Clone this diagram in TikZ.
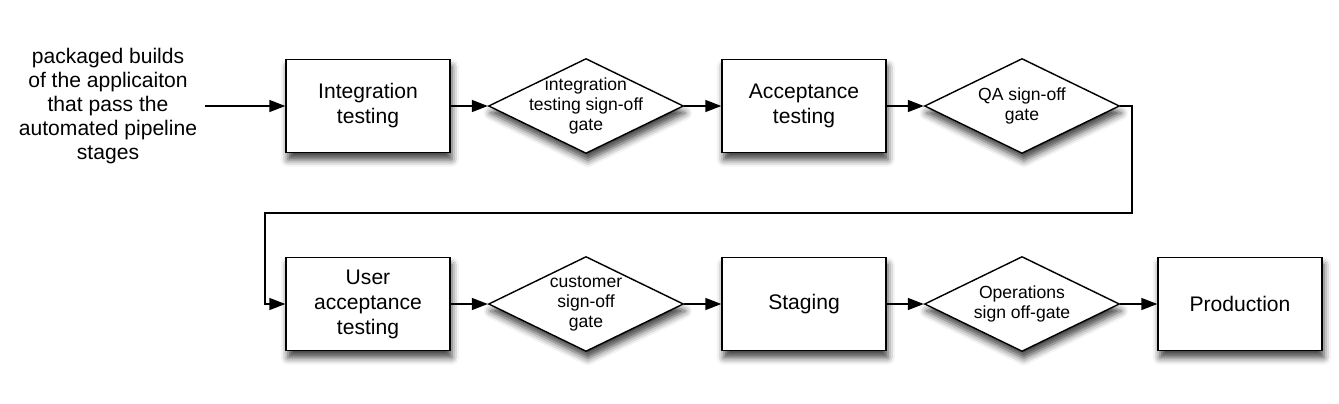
\documentclass[tikz,border=0pt]{standalone}
\usepackage{fontspec}
\setmainfont{Liberation Sans}
\usetikzlibrary{shapes.geometric,arrows.meta,shadows.blur}

\begin{document}
\begin{tikzpicture}[x=0.02cm,y=-0.02cm,
    stage/.style={draw,line width=0.8pt,fill=white,
      minimum width=3.28cm,minimum height=1.86cm,align=center,
      font=\fontsize{12}{14.2}\selectfont,
      blur shadow={shadow xshift=1pt,shadow yshift=-4pt,
        shadow blur radius=4pt,shadow opacity=75}},
    gate/.style={diamond,draw,line width=0.8pt,fill=white,
      minimum width=3.9cm,minimum height=1.9cm,align=center,
      inner xsep=-0.8cm,inner ysep=-0.3cm,
      font=\fontsize{10}{11.4}\selectfont,
      blur shadow={shadow xshift=1pt,shadow yshift=-4pt,
        shadow blur radius=4pt,shadow opacity=75}},
    flow/.style={line width=0.8pt,-{Triangle[length=0.32cm,width=0.24cm]}}]
  \useasboundingbox (0,0) rectangle (1339,403);

  % first row
  \node[align=center,font=\fontsize{12}{13.6}\selectfont] (builds) at (108,106)
    {packaged builds\\of the applicaiton\\that pass the\\automated pipeline\\stages};
  \coordinate (in) at (205,106);
  \node[stage] (integ) at (368,106) {Integration\\testing};
  \node[gate] (integgate) at (586,106) {integration\\testing sign-off\\gate};
  \node[stage] (accept) at (804,106) {Acceptance\\testing};
  \node[gate] (qagate) at (1022,106) {QA sign-off\\gate};

  % second row
  \node[stage] (uat) at (368,304) {User\\acceptance\\testing};
  \node[gate] (custgate) at (586,304) {customer\\sign-off\\gate};
  \node[stage] (staging) at (804,304) {Staging};
  \node[gate] (opsgate) at (1022,304) {Operations\\sign off-gate};
  \node[stage] (prod) at (1240,304) {Production};

  \draw[flow] (in) -- (integ);
  \draw[flow] (integ) -- (integgate);
  \draw[flow] (integgate) -- (accept);
  \draw[flow] (accept) -- (qagate);
  \draw[flow] (qagate.east) -- ++(12,0) coordinate (turn) |- (265,213) |- (uat.west);
  \draw[flow] (uat) -- (custgate);
  \draw[flow] (custgate) -- (staging);
  \draw[flow] (staging) -- (opsgate);
  \draw[flow] (opsgate) -- (prod);
\end{tikzpicture}
\end{document}
